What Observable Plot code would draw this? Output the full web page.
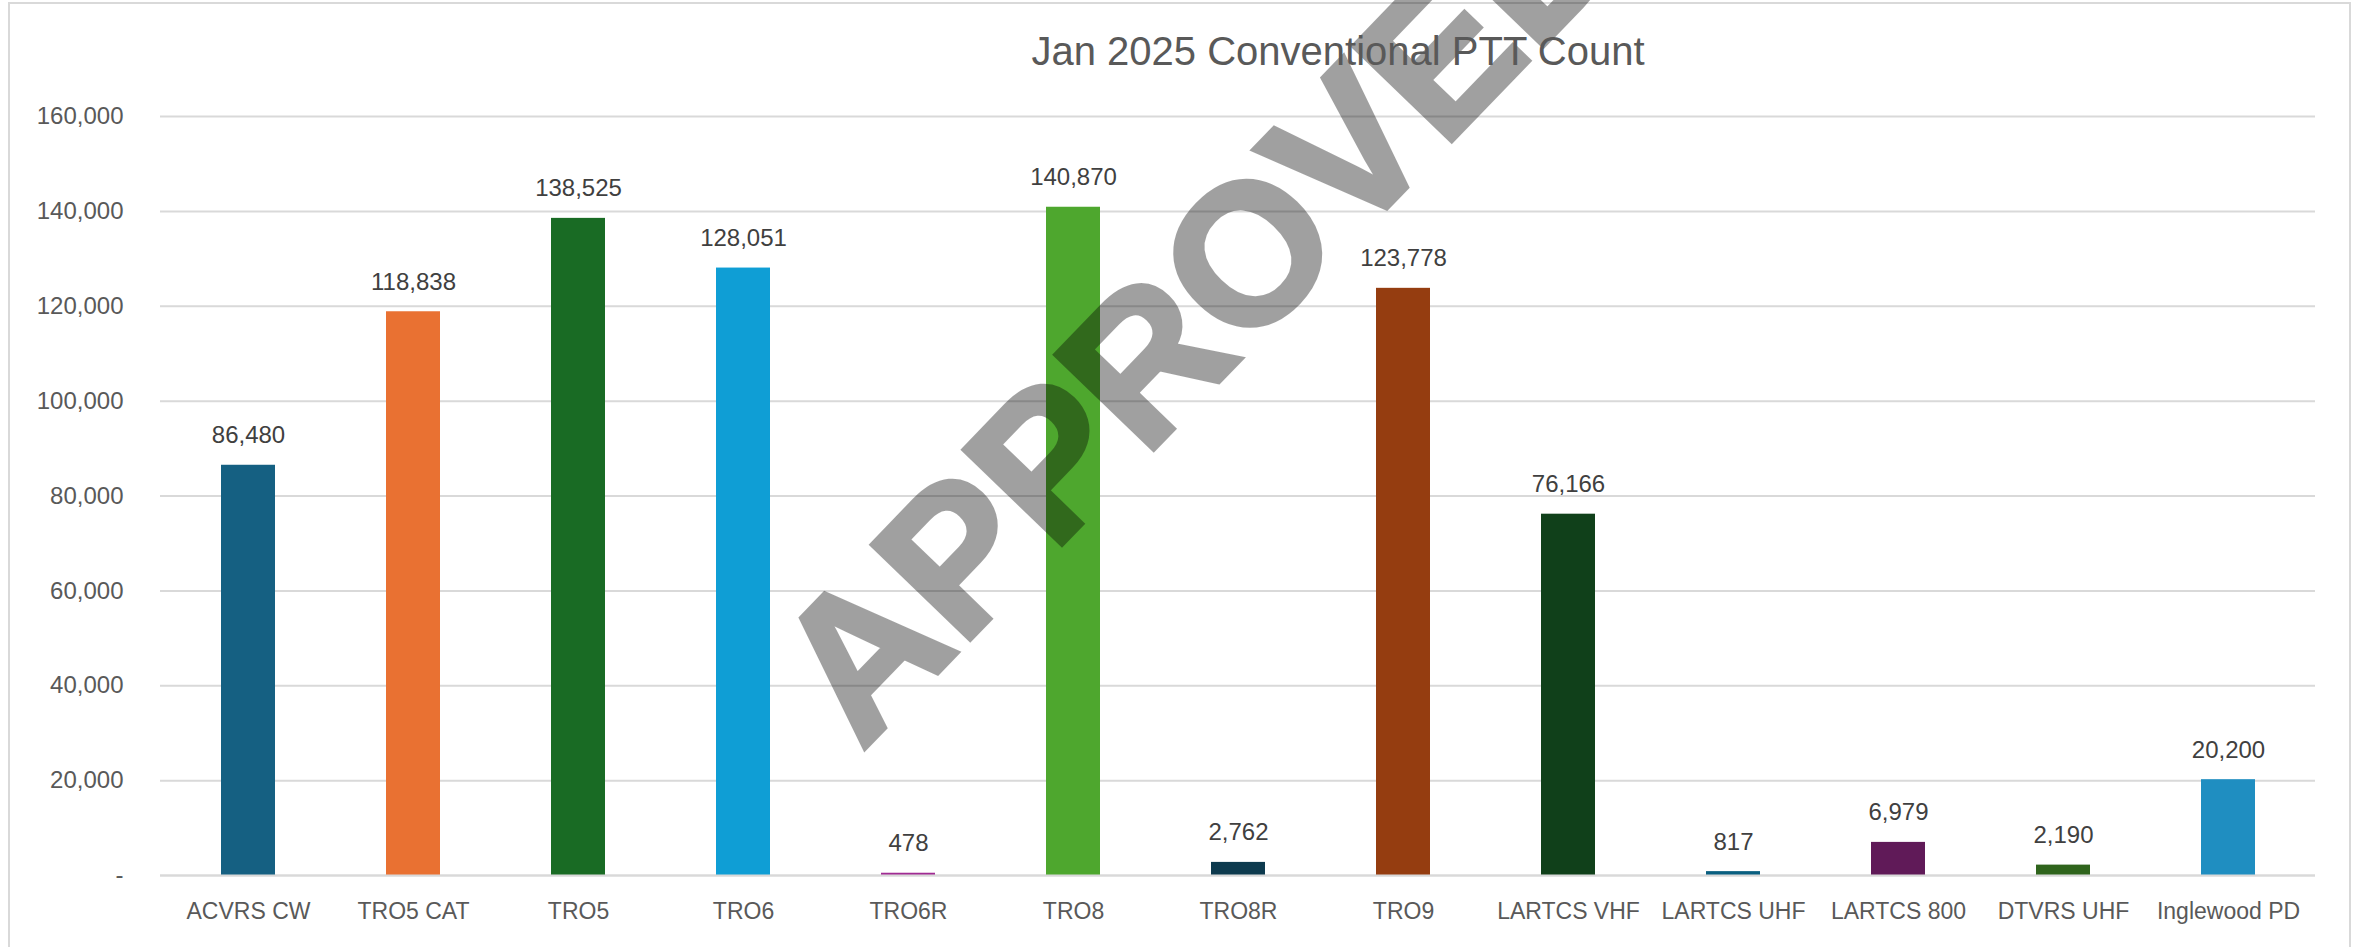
<!DOCTYPE html>
<html>
<head>
<meta charset="utf-8">
<script src="https://cdn.jsdelivr.net/npm/d3@7"></script>
<script src="https://cdn.jsdelivr.net/npm/@observablehq/plot@0.6"></script>
<style>
  html, body { margin: 0; padding: 0; background: #ffffff; }
  #wrap { position: relative; width: 2364px; height: 947px; overflow: hidden; background: #ffffff; }
  #frame { position: absolute; left: 8px; top: 2px; width: 2343px; height: 980px; border: 2px solid #d9d9d9; box-sizing: border-box; pointer-events: none; }
  #title { position: absolute; left: 0; top: 31px; width: 2676px; text-align: center; font-family: "Liberation Sans", Arial, sans-serif; font-size: 40px; line-height: 40px; color: #595959; white-space: nowrap; }
  #chart { position: absolute; left: 0; top: 0; }
</style>
</head>
<body>
<div id="wrap">
  <div id="frame"></div>
  <div id="chart"></div>
  <div id="title"></div>
</div>
<script>
const titleText = "Jan 2025 Conventional PTT Count";
const watermarkText = "APPROVED";
const categories = ["ACVRS CW", "TRO5 CAT", "TRO5", "TRO6", "TRO6R", "TRO8", "TRO8R", "TRO9", "LARTCS VHF", "LARTCS UHF", "LARTCS 800", "DTVRS UHF", "Inglewood PD"];
const values = [86480, 118838, 138525, 128051, 478, 140870, 2762, 123778, 76166, 817, 6979, 2190, 20200];
const barColors = ["#156082", "#E97132", "#196B24", "#0F9ED5", "#A02B93", "#4EA72E", "#0D3A4E", "#953D10", "#10401A", "#095F80", "#601A58", "#2F641C", "#1F8EC1"];
const yTicks = [0, 20000, 40000, 60000, 80000, 100000, 120000, 140000, 160000];

const data = categories.map((c, i) => ({cat: c, value: values[i]}));
const fmt = d3.format(",");

document.getElementById("title").textContent = titleText;

const chart = Plot.plot({
  width: 2364,
  height: 947,
  marginLeft: 160,
  marginRight: 49,
  marginTop: 116,
  marginBottom: 72,
  style: {fontFamily: "'Liberation Sans', Arial, sans-serif", background: "transparent", overflow: "visible"},
  x: {domain: categories, paddingInner: 0.674, paddingOuter: 0.337, label: null, axis: null},
  y: {domain: [0, 160000], label: null, axis: null},
  color: {domain: categories, range: barColors},
  marks: [
    Plot.gridY(yTicks, {stroke: "#d9d9d9", strokeOpacity: 1, strokeWidth: 2}),
    Plot.barY(data, {x: "cat", y: "value", fill: "cat"}),
    Plot.ruleY([0], {stroke: "#d9d9d9", strokeWidth: 2}),
    Plot.axisY({ticks: yTicks, tickSize: 0, tickPadding: 37, fontSize: 24, color: "#595959", label: null,
      tickFormat: d => d === 0 ? "-" : fmt(d)}),
    Plot.axisX({tickSize: 0, tickPadding: 27, fontSize: 23, color: "#595959", label: null}),
    Plot.text(data, {x: "cat", y: "value", text: d => fmt(d.value), lineAnchor: "bottom", dy: -22, fontSize: 24, fill: "#404040"}),
    Plot.text([watermarkText], {frameAnchor: "middle", dx: -36, dy: -188, rotate: -46, fontSize: 198, fontWeight: "bold",
      fill: "#000000", stroke: "#000000", strokeWidth: 5, strokeLinejoin: "miter", opacity: 0.37, lineAnchor: "middle"})
  ]
});
document.getElementById("chart").appendChild(chart);
</script>
</body>
</html>
